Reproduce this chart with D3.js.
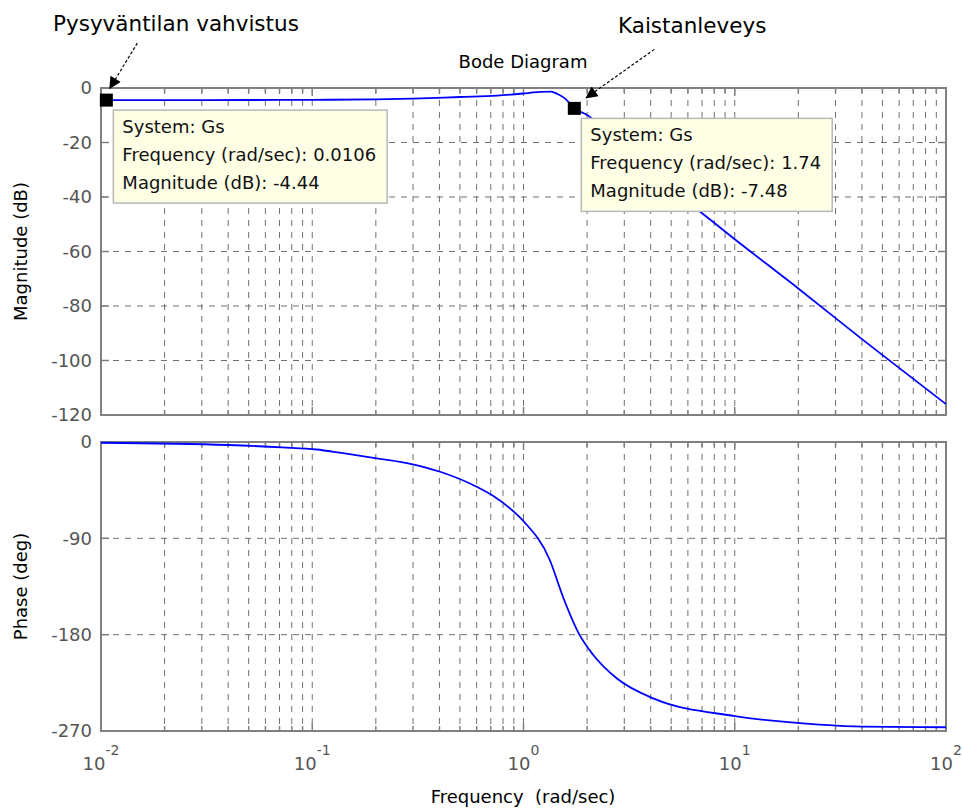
<!DOCTYPE html>
<html>
<head>
<meta charset="utf-8">
<script src="https://cdn.jsdelivr.net/npm/d3@7"></script>
<style>
  body { margin: 0; background: #fff; }
  text { font-family: "DejaVu Sans", sans-serif; }
</style>
</head>
<body>
<div id="chart"></div>
<script>
// ---- data ----
var magFreq  = [0.01, 0.02, 0.05, 0.1, 0.2, 0.3, 0.5, 0.75, 1.0, 1.2, 1.35, 1.45, 1.57, 1.74, 2.0, 2.5, 3, 4, 5, 6.86, 10, 20.4, 39.2, 50.8, 100];
var magDb    = [-4.44, -4.43, -4.4, -4.35, -4.15, -3.9, -3.3, -2.8, -2.0, -1.4, -1.3, -2.2, -3.8, -7.48, -9.9, -16, -21.5, -30.5, -37, -45.4, -55.5, -74.1, -91.6, -98.4, -116];

var phaseFreq = [0.01, 0.04, 0.072, 0.105, 0.135, 0.202, 0.295, 0.403, 0.6, 0.72, 0.863, 1.0, 1.33, 1.54, 1.84, 2.14, 2.77, 4.17, 10, 25, 40, 100];
var phaseDeg  = [-0.7, -2.8, -5, -7, -10, -15.3, -20.6, -27.8, -41.8, -50.5, -62, -74, -110, -145, -180, -199, -221, -240, -256, -264, -266, -266.5];

var magTicks   = [0, -20, -40, -60, -80, -100, -120];
var phaseTicks = [0, -90, -180, -270];
var xExponents = [-2, -1, 0, 1, 2];

// data tips (frequency, magnitude)
var tipFreq  = [0.0106, 1.74];
var tipMag   = [-4.44, -7.48];
var tipLabel = ["0.0106", "1.74"];
var tipNotes = ["Pysyväntilan vahvistus", "Kaistanleveys"];

const width = 962;
const height = 812;

const svg = d3.select("#chart").append("svg")
    .attr("width", width)
    .attr("height", height);

// scales
const x = d3.scaleLog().domain([0.01, 100]).range([101, 946]);
const yMag = d3.scaleLinear().domain([-120, 0]).range([415, 88]);
const yPh = d3.scaleLinear().domain([-270, 0]).range([731, 442]);

var axisColor = "#808080";
var gridColor = "#707070";
var allX = x.ticks();   // 1..9 times each decade

function isMajor(v) {
    var l = Math.log10(v);
    return Math.abs(l - Math.round(l)) < 1e-9;
}

// draws grid, frame and inward ticks for one panel
function drawPanel(y, yTicks) {
    var g = svg.append("g");
    var top = y.range()[1], bottom = y.range()[0];
    var left = x.range()[0], right = x.range()[1];

    g.append("rect")
        .attr("x", left).attr("y", top)
        .attr("width", right - left).attr("height", bottom - top)
        .style("fill", "white");

    // vertical grid
    g.selectAll(".vg").data(allX).enter().append("line")
        .attr("x1", d => x(d)).attr("x2", d => x(d))
        .attr("y1", top).attr("y2", bottom)
        .style("stroke", gridColor)
        .style("stroke-width", 1)
        .style("stroke-dasharray", "6,6");

    // horizontal grid
    g.selectAll(".hg").data(yTicks).enter().append("line")
        .attr("x1", left).attr("x2", right)
        .attr("y1", d => y(d)).attr("y2", d => y(d))
        .style("stroke", gridColor)
        .style("stroke-width", 1)
        .style("stroke-dasharray", "6,6");

    // x ticks top and bottom (inward)
    g.selectAll(".xtb").data(allX).enter().append("line")
        .attr("x1", d => x(d)).attr("x2", d => x(d))
        .attr("y1", bottom).attr("y2", d => bottom - (isMajor(d) ? 8 : 5))
        .style("stroke", axisColor).style("stroke-width", 1.5);
    g.selectAll(".xtt").data(allX).enter().append("line")
        .attr("x1", d => x(d)).attr("x2", d => x(d))
        .attr("y1", top).attr("y2", d => top + (isMajor(d) ? 8 : 5))
        .style("stroke", axisColor).style("stroke-width", 1.5);

    // y ticks left and right
    g.selectAll(".ytl").data(yTicks).enter().append("line")
        .attr("x1", left).attr("x2", left + 8)
        .attr("y1", d => y(d)).attr("y2", d => y(d))
        .style("stroke", axisColor).style("stroke-width", 1.5);
    g.selectAll(".ytr").data(yTicks).enter().append("line")
        .attr("x1", right).attr("x2", right - 8)
        .attr("y1", d => y(d)).attr("y2", d => y(d))
        .style("stroke", axisColor).style("stroke-width", 1.5);

    // frame
    g.append("rect")
        .attr("x", left).attr("y", top)
        .attr("width", right - left).attr("height", bottom - top)
        .style("fill", "none")
        .style("stroke", axisColor)
        .style("stroke-width", 2);

    // y tick labels
    g.selectAll(".yl").data(yTicks).enter().append("text")
        .attr("x", left - 9)
        .attr("y", d => y(d))
        .attr("dy", "0.36em")
        .attr("text-anchor", "end")
        .style("font-size", "18px")
        .style("fill", "#555")
        .text(d => d);
    return g;
}

drawPanel(yMag, magTicks);
drawPanel(yPh, phaseTicks);

// curves
var magLine = d3.line()
    .x((d, i) => x(magFreq[i]))
    .y(d => yMag(d))
    .curve(d3.curveMonotoneX);

svg.append("path")
    .datum(magDb)
    .attr("d", magLine)
    .style("fill", "none")
    .style("stroke", "#0000ff")
    .style("stroke-width", 1.8);

var phLine = d3.line()
    .x((d, i) => x(phaseFreq[i]))
    .y(d => yPh(d))
    .curve(d3.curveMonotoneX);

svg.append("path")
    .datum(phaseDeg)
    .attr("d", phLine)
    .style("fill", "none")
    .style("stroke", "#0000ff")
    .style("stroke-width", 1.8);

// x tick labels 10^n under the phase plot
var xl = svg.selectAll(".xl").data(xExponents).enter().append("text")
    .attr("x", d => x(Math.pow(10, d)))
    .attr("y", 770)
    .attr("text-anchor", "middle")
    .style("font-size", "18px")
    .style("fill", "#555");
xl.append("tspan").text("10");
xl.append("tspan")
    .attr("dy", -15)
    .style("font-size", "14px")
    .text(d => d);

// axis labels and title
svg.append("text")
    .attr("x", 523).attr("y", 68)
    .attr("text-anchor", "middle")
    .style("font-size", "18px")
    .text("Bode Diagram");

svg.append("text")
    .attr("x", 523).attr("y", 803)
    .attr("text-anchor", "middle")
    .style("font-size", "18px")
    .text("Frequency\u00a0\u00a0(rad/sec)");

svg.append("text")
    .attr("transform", "translate(27," + (88 + 415) / 2 + ") rotate(-90)")
    .attr("text-anchor", "middle")
    .style("font-size", "18px")
    .text("Magnitude (dB)");

svg.append("text")
    .attr("transform", "translate(27," + (442 + 731) / 2 + ") rotate(-90)")
    .attr("text-anchor", "middle")
    .style("font-size", "18px")
    .text("Phase (deg)");

// arrow head
svg.append("defs").append("marker")
    .attr("id", "arrow")
    .attr("viewBox", "0 0 10 10")
    .attr("refX", 10).attr("refY", 5)
    .attr("markerWidth", 14).attr("markerHeight", 12)
    .attr("markerUnits", "userSpaceOnUse")
    .attr("orient", "auto")
    .append("path")
    .attr("d", "M0,0 L10,5 L0,10 z")
    .style("fill", "black");

// data tips: marker, box, arrow and note
var arrowFrom = [[31, -57], [80, -59]];
var arrowTo   = [[3, -11], [11, -10]];
var notePos   = [[53, 31], [618, 33]];

tipFreq.forEach(function (f, i) {
    var mx = x(f), my = yMag(tipMag[i]);

    var box = svg.append("g").attr("transform", "translate(" + (mx + 7) + "," + (my + 10) + ")");
    var rect = box.append("rect")
        .attr("height", 93)
        .style("fill", "#ffffe6")
        .style("stroke", "#b8b8b8")
        .style("stroke-width", 1.5);
    var lines = ["System: Gs", "Frequency (rad/sec): " + tipLabel[i], "Magnitude (dB): " + tipMag[i]];
    var maxW = 0;
    lines.forEach(function (t, j) {
        var tx = box.append("text")
            .attr("x", 9).attr("y", 23 + j * 28)
            .style("font-size", "18px")
            .style("fill", "#111")
            .text(t);
        maxW = Math.max(maxW, tx.node().getComputedTextLength());
    });
    rect.attr("width", maxW + 20);

    svg.append("rect")
        .attr("x", mx - 6.5).attr("y", my - 6.5)
        .attr("width", 13).attr("height", 13)
        .style("fill", "black");

    svg.append("line")
        .attr("x1", mx + arrowFrom[i][0]).attr("y1", my + arrowFrom[i][1])
        .attr("x2", mx + arrowTo[i][0]).attr("y2", my + arrowTo[i][1])
        .style("stroke", "black")
        .style("stroke-width", 1.2)
        .style("stroke-dasharray", "3,2")
        .attr("marker-end", "url(#arrow)");

    svg.append("text")
        .attr("x", notePos[i][0]).attr("y", notePos[i][1])
        .style("font-size", "21.5px")
        .text(tipNotes[i]);
});
</script>
</body>
</html>
